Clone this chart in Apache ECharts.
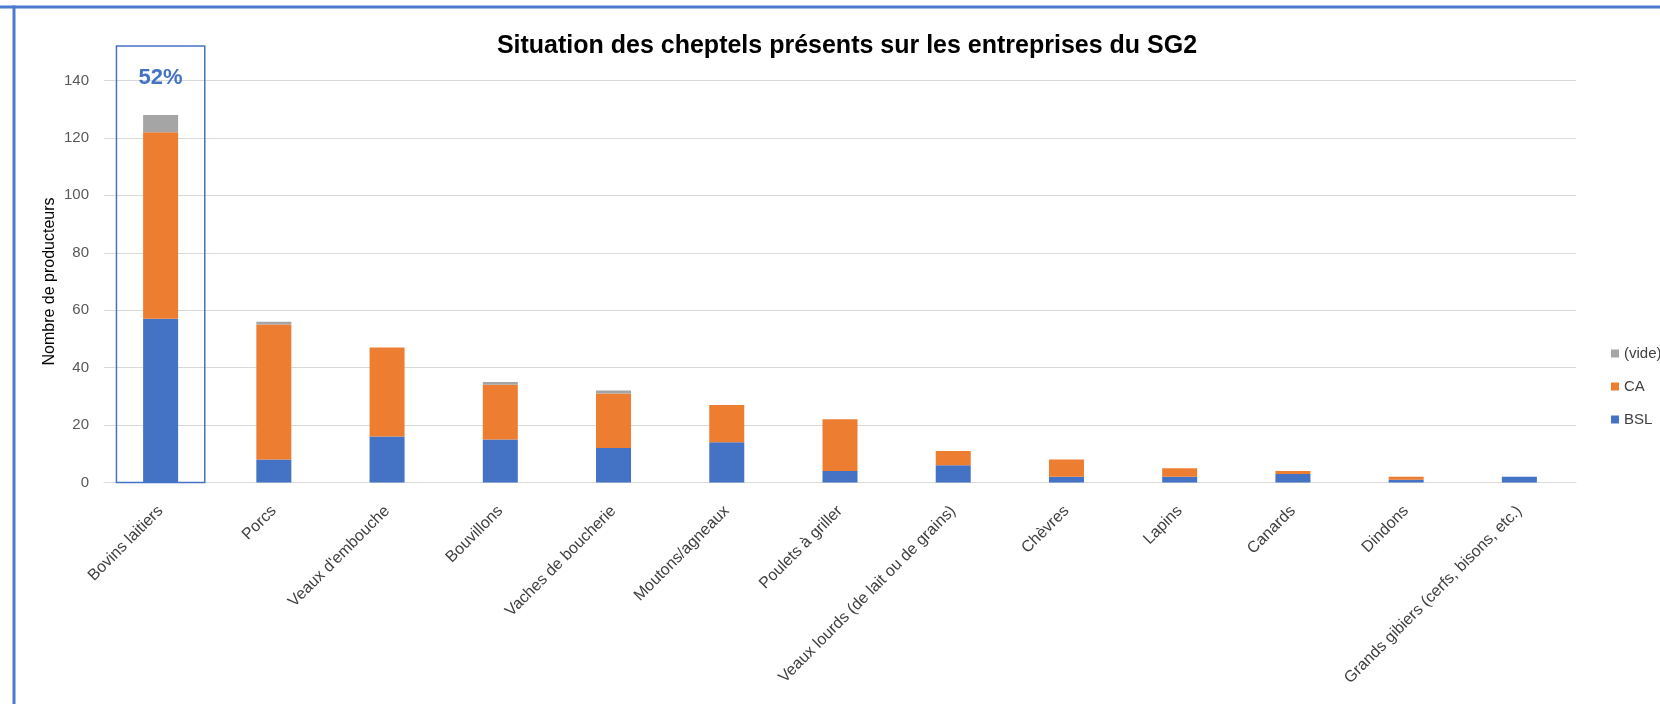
<!DOCTYPE html>
<html>
<head>
<meta charset="utf-8">
<script src="https://cdn.jsdelivr.net/npm/echarts@6/dist/echarts.min.js"></script>
<style>
html,body{margin:0;padding:0;background:#fff;}
#chart{width:1660px;height:704px;}
</style>
</head>
<body>
<div id="chart"></div>
<script>
const categories = ["Bovins laitiers","Porcs","Veaux d'embouche","Bouvillons","Vaches de boucherie","Moutons/agneaux","Poulets à griller","Veaux lourds (de lait ou de grains)","Chèvres","Lapins","Canards","Dindons","Grands gibiers (cerfs, bisons, etc.)"];
const bslValues  = [57, 8, 16, 15, 12, 14, 4, 6, 2, 2, 3, 1, 2];
const caValues   = [65, 47, 31, 19, 19, 13, 18, 5, 6, 3, 1, 1, 0];
const videValues = [6, 1, 0, 1, 1, 0, 0, 0, 0, 0, 0, 0, 0];
const seriesNames = ["BSL", "CA", "(vide)"];
const legendOrder = ["(vide)", "CA", "BSL"];
const highlightLabel = "52%";
const highlightIndex = 0;
const highlightTop = 152;

const FONT = "'Liberation Sans', Arial, sans-serif";
const chart = echarts.init(document.getElementById('chart'), null, {renderer: 'canvas'});

const option = {
  backgroundColor: '#ffffff',
  animation: false,
  title: {
    text: 'Situation des cheptels présents sur les entreprises du SG2',
    left: 842, top: 29, textAlign: 'center',
    textStyle: {fontFamily: FONT, fontSize: 25, fontWeight: 'bold', color: '#000000'}
  },
  legend: {
    data: legendOrder,
    orient: 'vertical',
    left: 1606, top: 341,
    itemWidth: 8, itemHeight: 8, itemGap: 18,
    icon: 'rect',
    textStyle: {fontFamily: FONT, fontSize: 15, color: '#404040'}
  },
  grid: {left: 104, right: 84, top: 80.5, bottom: 221.5, containLabel: false},
  xAxis: {
    type: 'category',
    data: categories,
    axisLine: {lineStyle: {color: '#D9D9D9', width: 1}},
    axisTick: {show: false},
    axisLabel: {interval: 0, rotate: 45, margin: 26, fontFamily: FONT, fontSize: 16, color: '#404040'}
  },
  yAxis: {
    type: 'value',
    min: 0, max: 140, interval: 20,
    name: 'Nombre de producteurs',
    nameLocation: 'middle', nameGap: 46, nameRotate: 90,
    nameMoveOverlap: false,
    nameTextStyle: {fontFamily: FONT, fontSize: 16, color: '#000000'},
    axisLine: {show: false}, axisTick: {show: false},
    axisLabel: {margin: 15, fontFamily: FONT, fontSize: 15, color: '#595959'},
    splitLine: {lineStyle: {color: '#D9D9D9', width: 1}}
  },
  series: [
    {name: seriesNames[0], type: 'bar', stack: 'tot', data: bslValues, barWidth: 35, itemStyle: {color: '#4472C4'}},
    {name: seriesNames[1], type: 'bar', stack: 'tot', data: caValues, barWidth: 35, itemStyle: {color: '#ED7D31'}},
    {name: seriesNames[2], type: 'bar', stack: 'tot', data: videValues, barWidth: 35, itemStyle: {color: '#A5A5A5'}}
  ]
};
chart.setOption(option);

// highlight box and label computed from the axes
const p0 = chart.convertToPixel({gridIndex: 0}, [highlightIndex, 0]);
const pTop = chart.convertToPixel({gridIndex: 0}, [highlightIndex, highlightTop]);
const pLbl = chart.convertToPixel({gridIndex: 0}, [highlightIndex, 141]);
const band = chart.convertToPixel({gridIndex: 0}, [1, 0])[0] - p0[0];
const boxW = band * 0.78;

chart.setOption({
  graphic: [
    {type: 'line', shape: {x1: 0, y1: 7, x2: 1660, y2: 7}, style: {stroke: '#4A7BD0', lineWidth: 3}, silent: true},
    {type: 'line', shape: {x1: 14, y1: 5.5, x2: 14, y2: 704}, style: {stroke: '#4A7BD0', lineWidth: 3}, silent: true},
    {type: 'rect', shape: {x: p0[0] - boxW/2, y: pTop[1], width: boxW, height: p0[1] - pTop[1]},
      style: {fill: 'none', stroke: '#4472C4', lineWidth: 1.5}, silent: true, z: 100},
    {type: 'text', x: pLbl[0], y: pLbl[1],
      style: {text: highlightLabel, fill: '#4472C4', font: 'bold 22px ' + FONT, textAlign: 'center', textVerticalAlign: 'middle'},
      silent: true, z: 100}
  ]
});
</script>
</body>
</html>
